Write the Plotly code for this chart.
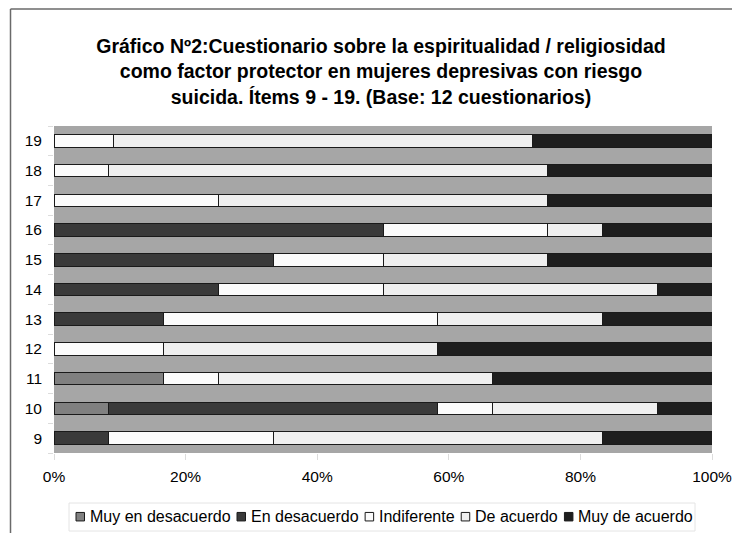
import plotly.graph_objects as go

items = ["9", "10", "11", "12", "13", "14", "15", "16", "17", "18", "19"]
series_names = ["Muy en desacuerdo", "En desacuerdo", "Indiferente", "De acuerdo", "Muy de acuerdo"]
muy_en_desacuerdo = [0, 1, 2, 0, 0, 0, 0, 0, 0, 0, 0]
en_desacuerdo     = [1, 6, 0, 0, 2, 3, 4, 6, 0, 0, 0]
indiferente       = [3, 1, 1, 2, 5, 3, 2, 3, 3, 1, 1]
de_acuerdo        = [6, 3, 5, 5, 3, 5, 3, 1, 6, 8, 7]
muy_de_acuerdo    = [2, 1, 4, 5, 2, 1, 3, 2, 3, 3, 3]
series_values = [muy_en_desacuerdo, en_desacuerdo, indiferente, de_acuerdo, muy_de_acuerdo]
colors = ["#808080", "#3a3a3a", "#fbfbfb", "#efefef", "#1e1e1e"]
x_ticks = [0, 20, 40, 60, 80, 100]

FONT = "Liberation Sans, Arial, sans-serif"
W, H = 732, 525  # page body adds an 8px offset
ML, MR, MT, MB = 46, 28, 118, 80
PW, PH = W - ML - MR, H - MT - MB


def px_to_paper(x, y):
    return (x - ML) / PW, (H - MB - y) / PH


fig = go.Figure()
for name, vals, col in zip(series_names, series_values, colors):
    fig.add_trace(go.Bar(
        y=items, x=vals, name=name, orientation="h", showlegend=False,
        marker=dict(color=col, line=dict(color="#1a1a1a", width=1)),
    ))

fig.update_layout(
    width=W, height=H,
    barmode="stack", barnorm="percent", bargap=0.58,
    paper_bgcolor="white", plot_bgcolor="#a6a6a6",
    margin=dict(l=ML, r=MR, t=MT, b=MB, autoexpand=False),
    font=dict(family=FONT, size=15, color="black"),
    title=dict(
        text="<b>Gráfico Nº2:Cuestionario sobre la espiritualidad / religiosidad<br>"
             "como factor protector en mujeres depresivas con riesgo<br>"
             "suicida. Ítems 9 - 19. (Base: 12 cuestionarios)</b>",
        xref="container", x=373 / W, xanchor="center",
        yref="container", y=1 - 45 / H, yanchor="top",
        font=dict(family=FONT, size=19.5, color="black"),
    ),
    xaxis=dict(range=[0, 100], tickvals=x_ticks, ticktext=[f"{v}%" for v in x_ticks],
               showgrid=False, zeroline=False, ticks="outside", ticklen=6,
               tickcolor="#dcdcdc", showline=False, ticklabelstandoff=3,
               tickfont=dict(size=15.5)),
    yaxis=dict(type="category", categoryorder="array", categoryarray=items,
               showgrid=False, ticks="outside", ticklen=5, tickcolor="#dcdcdc",
               tickson="boundaries", showline=False, ticklabelstandoff=11,
               tickfont=dict(size=15.5)),
    showlegend=False,
)

# ---- legend (one row, compact squares like the original) ----
ARIAL_W = {"M": 833, "u": 556, "y": 500, " ": 278, "e": 556, "n": 556, "d": 556, "s": 500,
           "a": 556, "c": 500, "r": 333, "o": 556, "E": 667, "I": 278, "i": 222, "f": 278,
           "t": 278, "D": 722}
LEG_FONT = 16
SQ = 8.5
x = 68.0
yc = 508.7
x0p, y0p = px_to_paper(61, 495)
x1p, y1p = px_to_paper(687, 523)
fig.add_shape(type="rect", xref="paper", yref="paper", x0=x0p, x1=x1p, y0=y0p, y1=y1p,
              line=dict(color="#e4e4e4", width=1), fillcolor="white", layer="below")
for name, col in zip(series_names, colors):
    sx0, sy0 = px_to_paper(x, yc - SQ / 2)
    sx1, sy1 = px_to_paper(x + SQ, yc + SQ / 2)
    fig.add_shape(type="rect", xref="paper", yref="paper", x0=sx0, x1=sx1, y0=sy0, y1=sy1,
                  fillcolor=col, line=dict(color="#1a1a1a", width=1))
    tx, ty = px_to_paper(x + SQ + 4.5, yc)
    fig.add_annotation(text=name, xref="paper", yref="paper", x=tx, y=ty,
                       xanchor="left", yanchor="middle", showarrow=False, borderpad=0,
                       font=dict(family=FONT, size=LEG_FONT, color="black"))
    tw = sum(ARIAL_W.get(ch, 556) for ch in name) / 1000 * LEG_FONT
    x += SQ + 5 + tw + 7

# chart frame lines (top and left)
fig.add_shape(type="line", xref="paper", yref="paper", x0=-0.0661, x1=1.05, y0=1.3576, y1=1.3576,
              line=dict(color="#6a6a6a", width=1.5))
fig.add_shape(type="line", xref="paper", yref="paper", x0=-0.0661, x1=-0.0661, y0=1.3576, y1=-0.26,
              line=dict(color="#6a6a6a", width=1.5))

fig.write_html("out.html")
